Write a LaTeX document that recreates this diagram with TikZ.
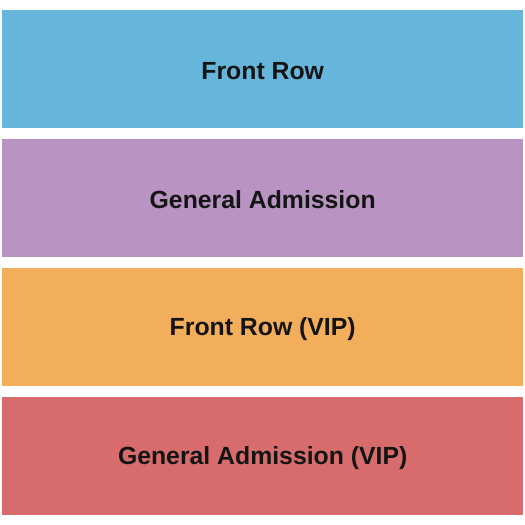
\documentclass[tikz,border=0pt]{standalone}
\usepackage{fontspec}
\setmainfont{Liberation Sans}
\definecolor{cblue}{HTML}{66B6DC}
\definecolor{cpurple}{HTML}{B994C2}
\definecolor{corange}{HTML}{F3AE5B}
\definecolor{cred}{HTML}{D86C6C}
\definecolor{ctext}{HTML}{141414}
\begin{document}
\begin{tikzpicture}[x=1pt,y=-1pt,
  section/.style={draw=none,minimum width=521pt,minimum height=118pt,inner sep=0pt,anchor=north west},
  label/.style={font=\fontsize{24.8}{28}\selectfont\bfseries,text=ctext,inner sep=0pt}]
\useasboundingbox[fill=white] (0,0) rectangle (525,525);
\node[section,fill=cblue] (fr) at (2,10) {};
\node[section,fill=cpurple] (ga) at (2,139) {};
\node[section,fill=corange] (frvip) at (2,268) {};
\node[section,fill=cred] (gavip) at (2,397) {};
\node[label] (tfr) at ([yshift=-1.5pt]fr.center) {Front Row};
\node[label] (tga) at ([yshift=-1.5pt]ga.center) {General Admission};
\node[label] (tfrvip) at ([yshift=-1.5pt]frvip.center) {Front Row (VIP)};
\node[label] (tgavip) at ([yshift=-1.5pt]gavip.center) {General Admission (VIP)};
\end{tikzpicture}
\end{document}
